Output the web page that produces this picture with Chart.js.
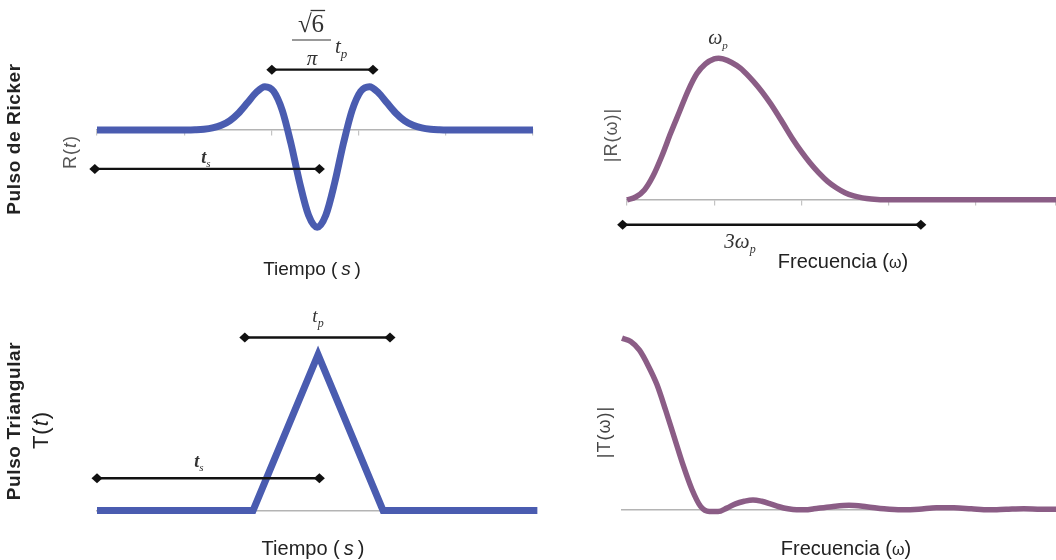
<!DOCTYPE html>
<html>
<head>
<meta charset="utf-8">
<script src="https://cdn.jsdelivr.net/npm/chart.js@4/dist/chart.umd.min.js"></script>
<style>
  html, body { margin: 0; padding: 0; background: #fff; overflow: hidden; }
  #wrap { position: relative; width: 1056px; height: 560px; }
  #wrap canvas { position: absolute; left: 0; top: 0; }
</style>
</head>
<body>
<div id="wrap">
  <canvas id="rickerTime" width="1056" height="560"></canvas>
  <canvas id="rickerFreq" width="1056" height="560"></canvas>
  <canvas id="triTime" width="1056" height="560"></canvas>
  <canvas id="triFreq" width="1056" height="560"></canvas>
</div>
<script>
// ---- Ricker pulse, time domain ----
const rickerT = [0, 1, 2.05, 2.25, 2.45, 2.65, 2.85, 3.05, 3.25, 3.45, 3.65, 3.85, 4.05, 4.25, 4.45, 4.65, 4.85,
                 5.05, 5.25, 5.45, 5.65, 5.85, 6.05, 6.25, 6.45, 6.65, 6.85, 7.05, 7.25, 7.45, 7.65, 7.85, 8.05, 9, 10];
const rickerR = [0, 0, 0.001, 0.003, 0.008, 0.021, 0.048, 0.097, 0.175, 0.279, 0.385, 0.445, 0.398, 0.200, -0.142, -0.545, -0.873,
                 -1.0, -0.873, -0.545, -0.142, 0.200, 0.398, 0.445, 0.385, 0.279, 0.175, 0.097, 0.048, 0.021, 0.008, 0.003, 0.001, 0, 0];

// ---- Ricker pulse, amplitude spectrum ----
const rickerW = [0, 0.1, 0.2, 0.3, 0.4, 0.5, 0.6, 0.7, 0.8, 0.9, 1.0, 1.05, 1.1, 1.2, 1.3, 1.4, 1.5, 1.6, 1.7, 1.8, 1.9,
                 2.0, 2.1, 2.2, 2.3, 2.4, 2.5, 2.6, 2.7, 2.8, 3.0, 3.5, 4.0, 4.5, 4.95];
const rickerAmp = [0, 0.02, 0.07, 0.17, 0.31, 0.47, 0.62, 0.77, 0.89, 0.96, 0.995, 1.0, 0.995, 0.97, 0.93, 0.87, 0.80, 0.72, 0.63, 0.53, 0.43,
                   0.34, 0.26, 0.19, 0.13, 0.085, 0.05, 0.028, 0.014, 0.006, 0, 0, 0, 0, 0];

// ---- Triangular pulse, time domain ----
const triT = [0, 3.58, 5.07, 6.56, 10.1];
const triA = [0, 0, 1, 0, 0];

// ---- Triangular pulse, amplitude spectrum ----
const triW = [0, 0.1, 0.2, 0.3, 0.4, 0.5, 0.6, 0.7, 0.8, 0.9, 1.0, 1.1, 1.2, 1.3, 1.4, 1.5, 1.6, 1.7, 1.8, 1.9, 2.0,
              2.1, 2.2, 2.4, 2.6, 2.8, 3.0, 3.2, 3.4, 3.6, 3.8, 4.0, 4.2, 4.4, 4.6, 4.8, 5.0];
const triAmp = [1.0, 0.98, 0.93, 0.84, 0.73, 0.58, 0.42, 0.26, 0.12, 0.02, -0.01, -0.01, 0.01, 0.035, 0.05, 0.058, 0.05, 0.035, 0.018, 0.006, 0,
                0, 0.006, 0.018, 0.026, 0.018, 0.006, 0, 0.003, 0.012, 0.012, 0.006, 0, 0.003, 0.006, 0.003, 0.004];

// ---- dimension arrows: [from, to, level] in data units ----
const rickerWidthArrow = [4.01, 6.33, 0.62];    // sqrt(6)/pi * tp
const rickerShiftArrow = [-0.05, 5.1, -0.40];   // ts
const rickerBandArrow  = [-0.05, 3.37, -0.176]; // 3 wp
const triWidthArrow    = [3.39, 6.72, 1.11];    // tp
const triShiftArrow    = [0.0, 5.1, 0.206];     // ts

const BLUE = '#4a5cb0';
const PURPLE = '#8b5d86';
const SANS = '"Liberation Sans", Arial, sans-serif';
const SERIF = '"Liberation Serif", "DejaVu Serif", serif';

function pts(xs, ys) { return xs.map((x, i) => ({ x, y: ys[i] })); }

// draws a run of text pieces: [text, font, dy]
function rich(ctx, x, y, parts, align) {
  ctx.textAlign = 'left';
  let w = 0;
  parts.forEach(p => { ctx.font = p[1]; w += ctx.measureText(p[0]).width; });
  let cx = align === 'center' ? x - w / 2 : x;
  parts.forEach(p => {
    ctx.font = p[1];
    ctx.fillText(p[0], cx, y + (p[2] || 0));
    cx += ctx.measureText(p[0]).width;
  });
}
function richRot(ctx, x, y, parts) {
  ctx.save();
  ctx.translate(x, y);
  ctx.rotate(-Math.PI / 2);
  ctx.textBaseline = 'middle';
  rich(ctx, 0, 0, parts, 'center');
  ctx.restore();
}

function dimArrow(chart, spec) {
  const ctx = chart.ctx, sx = chart.scales.x, sy = chart.scales.y;
  const x0 = sx.getPixelForValue(spec[0]), x1 = sx.getPixelForValue(spec[1]);
  const y = sy.getPixelForValue(spec[2]);
  ctx.save();
  ctx.strokeStyle = '#111';
  ctx.fillStyle = '#111';
  ctx.lineWidth = 2.4;
  ctx.beginPath(); ctx.moveTo(x0, y); ctx.lineTo(x1, y); ctx.stroke();
  [x0, x1].forEach(px => {
    ctx.beginPath();
    ctx.moveTo(px - 5.5, y); ctx.lineTo(px, y - 5); ctx.lineTo(px + 5.5, y); ctx.lineTo(px, y + 5);
    ctx.closePath(); ctx.fill();
  });
  ctx.restore();
}

function makePanel(id, xs, ys, color, lw, smooth, box, xr, yr, tickStep, drawTicks, extras) {
  return new Chart(document.getElementById(id), {
    type: 'line',
    data: {
      datasets: [{
        data: pts(xs, ys),
        borderColor: color,
        borderWidth: lw,
        pointRadius: 0,
        fill: false,
        tension: 0,
        cubicInterpolationMode: smooth ? 'monotone' : 'default',
        borderJoinStyle: smooth ? 'round' : 'miter',
        borderCapStyle: 'butt',
        clip: false
      }]
    },
    options: {
      responsive: false,
      animation: false,
      events: [],
      layout: { padding: { left: box[0], top: box[1], right: 1056 - box[2], bottom: 560 - box[3] } },
      plugins: { legend: { display: false }, tooltip: { enabled: false } },
      scales: {
        x: {
          type: 'linear', min: xr[0], max: xr[1],
          position: { y: 0 },
          ticks: { display: false, stepSize: tickStep },
          grid: { display: true, drawOnChartArea: false, drawTicks: drawTicks, tickLength: 5, color: '#c4c4c4', lineWidth: 1.2 },
          border: { display: true, color: '#b4b4b4', width: 1.6 }
        },
        y: { type: 'linear', min: yr[0], max: yr[1], display: false }
      }
    },
    plugins: [{ id: 'notes', afterDraw: extras }]
  });
}

// Ricker pulse in time
makePanel('rickerTime', rickerT, rickerR, BLUE, 7, true, [97, 57, 533, 237], [0, 10], [-1.1, 0.75], 2, true, chart => {
  const ctx = chart.ctx;
  dimArrow(chart, rickerWidthArrow);
  dimArrow(chart, rickerShiftArrow);
  ctx.save();
  ctx.fillStyle = '#222';
  ctx.letterSpacing = '0.6px';
  richRot(ctx, 15, 139, [['Pulso de Ricker', 'bold 19px ' + SANS]]);
  ctx.letterSpacing = '1px';
  ctx.fillStyle = '#555';
  richRot(ctx, 71, 152, [['R(', '18px ' + SANS], ['t', 'italic 18px ' + SANS], [')', '18px ' + SANS]]);
  ctx.letterSpacing = '0px';
  ctx.fillStyle = '#222';
  ctx.textBaseline = 'alphabetic';
  rich(ctx, 312, 275, [['Tiempo (', '19px ' + SANS], ['\u2009s\u2009', 'italic 19px ' + SANS], [')', '19px ' + SANS]], 'center');
  // sqrt(6)/pi tp
  ctx.fillStyle = '#333';
  ctx.font = '25px ' + SERIF;
  const wRad = ctx.measureText('\u221A').width, w6 = ctx.measureText('6').width;
  const rx = 311 - (wRad + w6) / 2;
  ctx.fillText('\u221A', rx, 32);
  ctx.fillText('6', rx + wRad, 32);
  ctx.strokeStyle = '#333'; ctx.lineWidth = 1.3;
  ctx.beginPath(); ctx.moveTo(rx + wRad - 1, 10.5); ctx.lineTo(rx + wRad + w6 + 1, 10.5); ctx.stroke();
  ctx.strokeStyle = '#777'; ctx.lineWidth = 1.6;
  ctx.beginPath(); ctx.moveTo(292, 40); ctx.lineTo(331, 40); ctx.stroke();
  rich(ctx, 312, 65, [['\u03C0', 'italic 21px ' + SERIF]], 'center');
  rich(ctx, 335, 53, [['t', 'italic 21px ' + SERIF], ['p', 'italic 13px ' + SERIF, 5]], 'left');
  rich(ctx, 206, 163, [['t', 'italic bold 18px ' + SERIF], ['s', 'italic 11px ' + SERIF, 4]], 'center');
  ctx.restore();
});

// Ricker amplitude spectrum
makePanel('rickerFreq', rickerW, rickerAmp, PURPLE, 5.5, true, [627, 37, 1056, 214], [0, 4.92], [-0.1, 1.15], 1, true, chart => {
  const ctx = chart.ctx;
  dimArrow(chart, rickerBandArrow);
  ctx.save();
  ctx.fillStyle = '#555';
  ctx.letterSpacing = '1px';
  richRot(ctx, 612, 135, [['|R(\u03C9)|', '18px ' + SANS]]);
  ctx.letterSpacing = '0px';
  ctx.fillStyle = '#333';
  ctx.textBaseline = 'alphabetic';
  rich(ctx, 718, 44, [['\u03C9', 'italic 20px ' + SERIF], ['p', 'italic 11px ' + SERIF, 5]], 'center');
  rich(ctx, 740, 248, [['3\u03C9', 'italic 21px ' + SERIF], ['p', 'italic 12px ' + SERIF, 5]], 'center');
  ctx.fillStyle = '#222';
  rich(ctx, 843, 268, [['Frecuencia (', '20px ' + SANS], ['\u03C9', '16px ' + SANS], [')', '20px ' + SANS]], 'center');
  ctx.restore();
});

// Triangular pulse in time
makePanel('triTime', triT, triA, BLUE, 7, false, [97, 339, 533, 526], [0, 10], [-0.1, 1.1], 2, false, chart => {
  const ctx = chart.ctx;
  dimArrow(chart, triWidthArrow);
  dimArrow(chart, triShiftArrow);
  ctx.save();
  ctx.fillStyle = '#222';
  ctx.letterSpacing = '0.6px';
  richRot(ctx, 15, 421, [['Pulso Triangular', 'bold 19px ' + SANS]]);
  ctx.letterSpacing = '1px';
  richRot(ctx, 42, 430, [['T(', '22px ' + SANS], ['t', 'italic 22px ' + SANS], [')', '22px ' + SANS]]);
  ctx.letterSpacing = '0px';
  ctx.textBaseline = 'alphabetic';
  rich(ctx, 313, 555, [['Tiempo (', '20px ' + SANS], ['\u2009s\u2009', 'italic 20px ' + SANS], [')', '20px ' + SANS]], 'center');
  ctx.fillStyle = '#333';
  rich(ctx, 318, 322, [['t', 'italic 19px ' + SERIF], ['p', 'italic 12px ' + SERIF, 5]], 'center');
  rich(ctx, 199, 467, [['t', 'italic bold 18px ' + SERIF], ['s', 'italic 11px ' + SERIF, 4]], 'center');
  ctx.restore();
});

// Triangular pulse amplitude spectrum
makePanel('triFreq', triW, triAmp, PURPLE, 5.5, true, [622, 321, 1056, 527], [0, 4.97], [-0.1, 1.1], 1, false, chart => {
  const ctx = chart.ctx;
  ctx.save();
  ctx.fillStyle = '#444';
  ctx.letterSpacing = '1px';
  richRot(ctx, 605, 432, [['|T(\u03C9)|', '18px ' + SANS]]);
  ctx.letterSpacing = '0px';
  ctx.fillStyle = '#222';
  ctx.textBaseline = 'alphabetic';
  rich(ctx, 846, 555, [['Frecuencia (', '20px ' + SANS], ['\u03C9', '16px ' + SANS], [')', '20px ' + SANS]], 'center');
  ctx.restore();
});
</script>
</body>
</html>
